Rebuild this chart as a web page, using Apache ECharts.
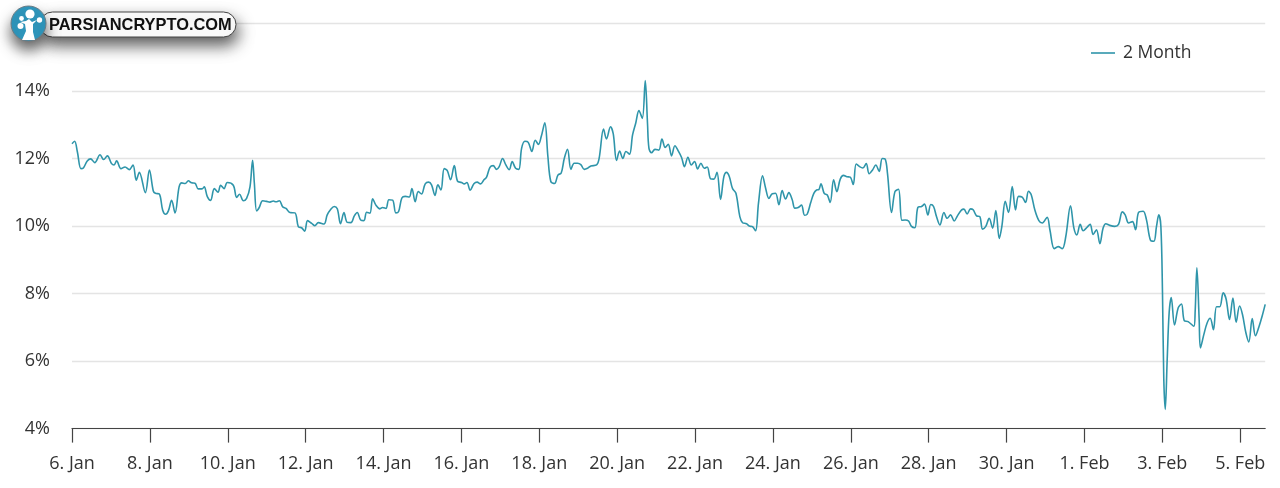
<!DOCTYPE html>
<html>
<head>
<meta charset="utf-8">
<title>2 Month</title>
<script src="https://cdn.jsdelivr.net/npm/echarts@6/dist/echarts.min.js"></script>
<style>
html,body{margin:0;padding:0;background:#fff;}
#chart{width:1280px;height:488px;}
</style>
</head>
<body>
<div id="chart"></div>
<script>
// hours since 6. Jan 00:00
var hours = [
0,1.6,3.3,5.5,7,9.4,11.5,14,17.3,19.5,21.8,24.4,25.9,27.5,30.2,32.7,35.3,37.6,39.6,41.5,
45.2,47.7,50.1,51.4,53.8,55.9,57.7,59.4,61.4,63.5,66,67.6,69.8,71.7,73.7,75.8,77.8,80.1,81.5,83.4,
85.4,87.7,90,91.6,93.7,95.7,99.4,101.5,103.3,105.6,107.6,109.7,111.3,112.4,113.8,115.4,117.5,120,122,124.1,
125.7,127.8,129.8,131.9,134.3,137.4,139.5,141.5,143.4,145.2,147.7,149.7,151.8,155.3,157.3,159.4,161.6,163.5,165.5,167.6,
169.6,171.9,174,175.8,177.9,179.9,181.6,183.6,185.3,187.3,189.8,191.4,193.5,195.3,197.6,199.6,201.3,203.3,205.4,207.8,
209.5,211.5,213.4,215.4,217.7,219.8,221.6,223.7,225.5,227.4,229.4,231.3,233.3,235.6,237.6,240.1,241.7,243.4,245.4,247.7,
249.7,251.8,253.9,255.5,257.6,259.6,261.7,263.3,265.4,267.4,269.5,271.3,273.4,275.4,277.1,279.1,281.2,283.4,285.5,287.5,
289.2,291.4,293.3,295.1,297.4,299.5,301.5,303.4,305.4,307.5,309.5,311.6,313.6,315.7,317.7,319.8,323.3,324.9,327.6,329.4,
331.9,333.6,335.6,337.5,339.5,341.4,343.6,345.5,347.5,349.4,351.5,353.3,354.7,355.6,357.2,359.3,361.7,363.6,365.6,367.5,
369.5,371.6,373.6,375.7,377.5,379.6,381.7,383.7,385.6,387.6,389.7,391.5,393.6,395.6,397.5,399.7,401.8,403.4,405.1,407.1,
409.2,411.6,413.3,415.7,417.4,419.4,421.3,423.1,425.6,427.5,429.5,431.6,433.6,435.7,437.7,439.8,441.8,443.9,445.5,447.6,
449.6,451.5,453.1,455.2,457.2,458.9,460.3,461.6,463.6,465.5,467.3,469.4,471.4,473.5,475.5,477.6,479.6,481.5,483.3,485.4,
487.4,489.5,491.3,493.4,495.4,497.5,499.4,501.2,502.6,505.1,507.2,509.4,511.5,513.5,515.6,517.4,519.5,521.3,523.6,525.4,
527.5,529.3,531,532.8,534.9,537.4,539.4,541.5,543.7,545.8,548.3,549.7,551.7,553.8,555.4,557.5,559.5,561.2,563.2,565.3,
567.4,569.4,571.5,573.1,575.2,577.2,579.5,581.5,583.4,585.6,587.7,589.5,591.2,593.4,595.9,598,601,602.7,605.4,607.8,
610.3,612.5,615.4,617.5,619.3,621.4,623.2,625.7,627.5,629.4,631.4,633.5,635.5,637.2,639.6,642.7,645,647.3,649.1,651.2,
653.6,655.5,657.3,660.2,662.2,664.7,666.8,668.4,669.8,671.1,672.1,672.9,673.8,675,676.2,677.5,679.5,681.8,683.8,685.5,
687.9,691.4,692.2,693.3,694.7,695.5,697.6,699.6,701.5,703.5,705.4,707.4,709.5,711.3,713.4,715.5,717.5,719.6,721.4,723.5,
725.3,727.4,729.4,731.5,733.5,735.4
];
var rates = [
12.44,12.51,12.2,11.7,11.72,11.93,11.99,11.88,12.11,11.97,12.08,11.85,11.81,11.93,11.7,11.75,11.67,11.81,11.36,11.59,
10.99,11.66,11.04,10.97,10.95,10.47,10.35,10.45,10.76,10.39,11.16,11.28,11.26,11.34,11.28,11.27,11.1,11.1,11.16,10.87,
10.76,11.11,11,11.21,11.11,11.29,11.21,10.85,10.94,10.75,10.82,11.16,11.95,11.26,10.45,10.55,10.75,10.73,10.71,10.74,
10.72,10.75,10.57,10.52,10.4,10.39,9.98,9.95,9.85,10.16,10.08,10.01,10.1,10.06,10.33,10.49,10.58,10.51,10.07,10.4,
10.11,10.1,10.3,10.4,10.18,10.16,10.41,10.38,10.81,10.62,10.51,10.55,10.52,10.78,10.77,10.39,10.43,10.83,10.88,10.86,
11.11,10.72,11.02,10.95,11.25,11.3,11.22,10.91,11.22,11.07,11.7,11.64,11.37,11.79,11.33,11.29,11.25,11.29,11.06,11.25,
11.3,11.25,11.37,11.45,11.74,11.79,11.68,11.76,12,11.81,11.67,11.91,11.71,11.68,12.3,12.51,12.48,12.21,12.54,12.42,
12.65,13.06,12.06,11.32,11.26,11.51,11.57,12,12.27,11.68,11.86,11.86,11.82,11.68,11.71,11.78,11.81,12.01,12.87,12.58,
12.94,12.73,11.94,12.22,12,12.21,12.13,12.7,13.06,13.42,13.19,14.31,13.04,12.3,12.17,12.27,12.25,12.58,12.33,12.42,
12.08,12.38,12.23,12.03,11.76,12.04,11.81,11.91,11.69,11.86,11.71,11.75,11.4,11.39,11.59,10.79,11.47,11.59,11.47,11.11,
10.97,10.28,10.1,10.07,10,9.98,9.86,10.68,11.49,11.12,10.82,10.96,10.97,10.63,11.05,10.8,10.99,10.78,10.53,10.55,
10.62,10.32,10.35,10.68,10.97,11.07,11.08,11.25,10.97,10.92,10.7,11.37,11.02,11.39,11.5,11.46,11.45,11.23,11.84,11.76,
11.72,11.85,11.55,11.66,11.81,11.62,12,11.98,11.56,10.4,11.02,11.09,10.17,10.18,10.15,9.99,9.95,10.55,10.58,10.65,
10.33,10.64,10.58,10.28,10.03,10.4,10.23,10.33,10.15,10.31,10.48,10.5,10.36,10.51,10.48,10.3,10.28,9.91,9.99,10.23,
9.94,10.46,9.63,9.99,10.73,10.4,11.17,10.48,10.88,10.86,10.7,11.03,10.93,10.48,10.16,10.09,10.26,9.89,9.33,9.39,
9.33,9.69,10.6,9.94,9.74,10.05,9.86,9.97,10.05,9.75,9.89,9.48,9.94,10.07,10.02,9.99,10.05,10.42,10.33,10.09,
10.13,9.89,10.4,10.44,10.19,9.58,9.55,9.99,10.33,9.99,8.02,5.46,4.57,6.05,7.43,7.88,7.07,7.58,7.69,7.2,
7.17,7.03,7.43,8.76,7.23,6.39,6.79,7.13,7.27,6.93,7.61,7.61,8.02,7.84,7.23,7.87,7.15,7.63,7.38,6.84,
6.57,7.26,6.75,7.01,7.33,7.68
];
var xLabels = ['6. Jan','8. Jan','10. Jan','12. Jan','14. Jan','16. Jan','18. Jan','20. Jan','22. Jan','24. Jan','26. Jan','28. Jan','30. Jan','1. Feb','3. Feb','5. Feb'];

var lineColor = '#2f95aa';
var textColor = '#333333';
var fontName = '"Open Sans", sans-serif';

var points = hours.map(function (h, i) { return [h, rates[i]]; });
var xTicks = xLabels.map(function (l, i) { return i * 48; });

var option = {
  animation: false,
  backgroundColor: '#ffffff',
  grid: { left: 72, right: 14.8, top: 23.5, bottom: 59.4 },
  legend: {
    left: 1086,
    top: 39,
    itemWidth: 24,
    itemHeight: 1.6,
    icon: 'rect',
    textStyle: { fontFamily: fontName, fontSize: 17.5, color: textColor, padding: [0, 0, 0, 3] },
    data: ['2 Month']
  },
  xAxis: {
    type: 'value',
    min: 0,
    max: 735.4,
    splitLine: { show: false },
    axisLine: { show: true, onZero: false, lineStyle: { color: '#444444', width: 1.2 } },
    axisTick: { show: true, length: 14, customValues: xTicks, lineStyle: { color: '#444444', width: 1.2 } },
    axisLabel: {
      customValues: xTicks,
      margin: 26,
      fontFamily: fontName,
      fontSize: 18,
      color: textColor,
      formatter: function (v) { return xLabels[Math.round(v / 48)]; }
    }
  },
  yAxis: {
    type: 'value',
    min: 4,
    max: 16,
    interval: 2,
    axisLine: { show: false },
    axisTick: { show: false },
    splitLine: { lineStyle: { color: '#e4e4e4', width: 1.4 } },
    axisLabel: {
      margin: 22,
      padding: [0, 0, 4, 0],
      fontFamily: fontName,
      fontSize: 18,
      color: textColor,
      formatter: '{value}%'
    }
  },
  series: [{
    name: '2 Month',
    type: 'line',
    data: points,
    showSymbol: false,
    smooth: 0.35,
    sampling: false,
    itemStyle: { color: lineColor },
    lineStyle: { color: lineColor, width: 1.6 }
  }],
  // logo in the top left corner
  graphic: [
    { type: 'rect', z: 100, shape: { x: 40, y: 12, width: 196, height: 25, r: 12.5 },
      style: { fill: '#ffffff', stroke: '#444', lineWidth: 1, shadowBlur: 16, shadowColor: 'rgba(0,0,0,0.65)', shadowOffsetX: 2, shadowOffsetY: 8 } },
    { type: 'circle', z: 101, shape: { cx: 28.5, cy: 23.5, r: 17.5 },
      style: { fill: '#2f97bd', stroke: '#6b7c85', lineWidth: 1, shadowBlur: 14, shadowColor: 'rgba(0,0,0,0.6)', shadowOffsetY: 9 } },
    { type: 'polygon', z: 102, shape: { points: [[22,40],[26,31],[25,24],[20,22],[26,21],[29,19],[32,22],[37,20],[33,24],[33,32],[35,40]] }, style: { fill: '#ffffff' } },
    { type: 'circle', z: 102, shape: { cx: 30, cy: 14, r: 4.6 }, style: { fill: '#ffffff' } },
    { type: 'circle', z: 102, shape: { cx: 39.5, cy: 20, r: 2.7 }, style: { fill: '#ffffff' } },
    { type: 'circle', z: 102, shape: { cx: 21.5, cy: 18.5, r: 2.4 }, style: { fill: '#ffffff' } },
    { type: 'circle', z: 102, shape: { cx: 20.5, cy: 26, r: 3 }, style: { fill: '#ffffff' } },
    { type: 'text', z: 103, style: { x: 49, y: 25, text: 'PARSIANCRYPTO.COM', verticalAlign: 'middle', fill: '#111111', font: 'bold 16.4px "Liberation Sans", sans-serif' } }
  ]
};

var myChart = echarts.init(document.getElementById('chart'));
myChart.setOption(option);
</script>
</body>
</html>
